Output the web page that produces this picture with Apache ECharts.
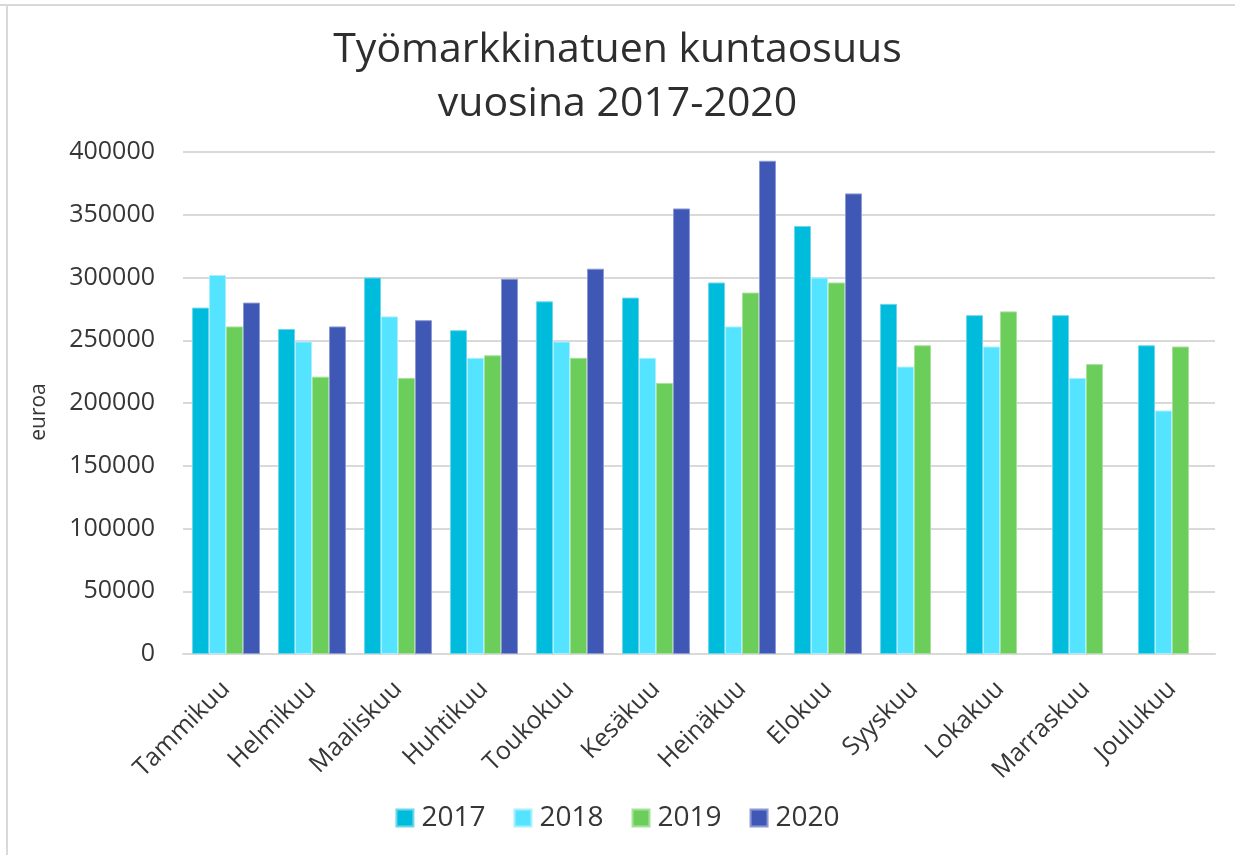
<!DOCTYPE html>
<html>
<head>
<meta charset="utf-8">
<script src="https://cdn.jsdelivr.net/npm/echarts@6/dist/echarts.min.js"></script>
<style>html,body{margin:0;padding:0;background:#fff}#c{width:1235px;height:855px}</style>
</head>
<body>
<div id="c"></div>
<script>
const categories = ['Tammikuu','Helmikuu','Maaliskuu','Huhtikuu','Toukokuu','Kesäkuu','Heinäkuu','Elokuu','Syyskuu','Lokakuu','Marraskuu','Joulukuu'];
const seriesNames = ['2017','2018','2019','2020'];
const v2017 = [276000,259000,300000,258000,281000,284000,296000,341000,279000,270000,270000,246000];
const v2018 = [302000,249000,269000,236000,249000,236000,261000,300000,229000,245000,220000,194000];
const v2019 = [261000,221000,220000,238000,236000,216000,288000,296000,246000,273000,231000,245000];
const v2020 = [280000,261000,266000,299000,307000,355000,393000,367000,null,null,null,null];
const yTicks = [0,50000,100000,150000,200000,250000,300000,350000,400000];
const colors = ['#00BCDC','#55E4FF','#6CCE5A','#3F58B6'];
const borders = ['#6fd6ea','#a8f0ff','#a6e19b','#8c9ad2'];
const values = [v2017,v2018,v2019,v2020];
const textColor = '#363636';
const font = '"Open Sans", "Noto Sans", sans-serif';

const chart = echarts.init(document.getElementById('c'), null, {renderer:'canvas'});
chart.setOption({
  animation:false,
  backgroundColor:'#fff',
  title:{
    text:'Työmarkkinatuen kuntaosuus\nvuosina 2017-2020',
    left:'center', top:18,
    textStyle:{fontFamily:font, fontSize:41, fontWeight:'normal', color:'#2e2e2e', lineHeight:54}
  },
  legend:{
    bottom:18, left:'center',
    itemWidth:17, itemHeight:17, itemGap:28,
    icon:'rect',
    textStyle:{fontFamily:font, fontSize:28, color:textColor, padding:[0,0,0,3]},
    data:seriesNames
  },
  grid:{left:183, right:20, top:152, bottom:201, containLabel:false},
  xAxis:{
    type:'category', data:categories,
    axisLine:{show:true, lineStyle:{color:'#d9d9d9', width:2}},
    axisTick:{show:false},
    axisLabel:{rotate:45, fontFamily:font, fontSize:25, color:textColor, margin:31, interval:0}
  },
  yAxis:{
    type:'value', min:0, max:400000, interval:50000,
    name:'euroa', nameLocation:'middle', nameGap:133, nameRotate:90,
    nameTextStyle:{fontFamily:font, fontSize:21, color:textColor, padding:[0,0,0,-18]},
    axisLine:{show:false}, axisTick:{show:false},
    splitLine:{lineStyle:{color:'#d9d9d9', width:2}},
    axisLabel:{fontFamily:font, fontSize:25, color:textColor, margin:28,
      formatter:function(v){return yTicks.indexOf(v)>=0 ? String(v) : '';}}
  },
  series: seriesNames.map((n,i)=>({
    name:n, type:'bar', data:values[i],
    barGap:'0%', barCategoryGap:'21%',
    itemStyle:{color:colors[i], borderColor:borders[i], borderWidth:1}
  })),
  graphic:[
    {type:'rect', shape:{x:0,y:4,width:1235,height:2}, style:{fill:'#d9d9d9'}, silent:true},
    {type:'rect', shape:{x:6,y:4,width:2,height:851}, style:{fill:'#d9d9d9'}, silent:true}
  ]
});
</script>
</body>
</html>
